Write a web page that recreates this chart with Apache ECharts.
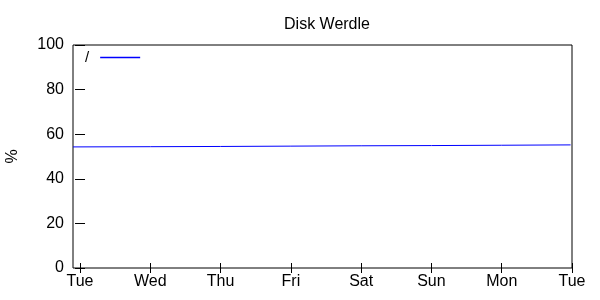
<!DOCTYPE html>
<html><head><meta charset="utf-8">
<script src="https://cdn.jsdelivr.net/npm/echarts@6/dist/echarts.min.js"></script>
<style>html,body{margin:0;padding:0;background:#fff}#c{width:600px;height:300px}</style>
</head><body><div id="c"></div>
<script>
var dayLabels = ['Tue','Wed','Thu','Fri','Sat','Sun','Mon','Tue'];
var dayTicks = [0,1,2,3,4,5,6,7];
var yTicks = [0,20,40,60,80,100];
// x in days from first Tuesday, y in percent
var diskX = [-0.1, 1, 2, 3, 4, 5, 6, 6.98];
var diskY = [54.3, 54.4, 54.5, 54.65, 54.8, 54.9, 55.05, 55.2];
var seriesName = '/';

var data = diskX.map(function(x,i){return [x, diskY[i]];});
var font = 'Liberation Sans';
var chart = echarts.init(document.getElementById('c'), null, {renderer:'canvas'});
var xBase = {
  type:'value', min:-0.1, max:7,
  axisLine:{show:false},
  splitLine:{show:false},
  axisTick:{show:true, inside:true, length:5, lineStyle:{color:'#000'}, customValues:dayTicks},
};
var yBase = {
  type:'value', min:0, max:100, interval:20,
  axisLine:{show:false},
  splitLine:{show:false},
  axisTick:{show:true, inside:true, length:5, lineStyle:{color:'#000'}}
};
chart.setOption({
  animation:false,
  backgroundColor:'#fff',
  title:{text:'Disk Werdle', left:322, top:12, textAlign:'center',
    textStyle:{fontFamily:font, fontSize:16, fontWeight:'normal', color:'#000'}},
  grid:{left:73, right:28, top:45, bottom:32, show:true, borderColor:'#000', borderWidth:1,
    containLabel:false, outerBoundsMode:'none'},
  legend:{show:true, left:80, top:45, align:'right', icon:'rect', itemWidth:40, itemHeight:1.5, itemGap:6,
    itemStyle:{color:'#0000ff', borderWidth:0},
    textStyle:{fontFamily:font, fontSize:15, color:'#000', padding:[0,6,0,0]},
    data:[{name:seriesName}]},
  xAxis:[
    Object.assign({}, xBase, {position:'bottom',
      axisLabel:{show:true, customValues:dayTicks, margin:6, fontFamily:font, fontSize:16, color:'#000',
        formatter:function(v){return dayLabels[Math.round(v)];}}}),
    Object.assign({}, xBase, {position:'top', axisLabel:{show:false}})
  ],
  yAxis:[
    Object.assign({}, yBase, {position:'left', name:'%', nameLocation:'middle', nameGap:52, nameRotate:90,
      nameTextStyle:{fontFamily:font, fontSize:16, color:'#000'},
      axisLabel:{show:true, margin:9, fontFamily:font, fontSize:16, color:'#000'}}),
    Object.assign({}, yBase, {position:'right', axisLabel:{show:false}})
  ],
  series:[{
    name:seriesName, type:'line', xAxisIndex:0, yAxisIndex:0, data:data,
    showSymbol:false, symbol:'none', lineStyle:{color:'#0000ff', width:1}, itemStyle:{color:'#0000ff'}
  }]
});
</script></body></html>
